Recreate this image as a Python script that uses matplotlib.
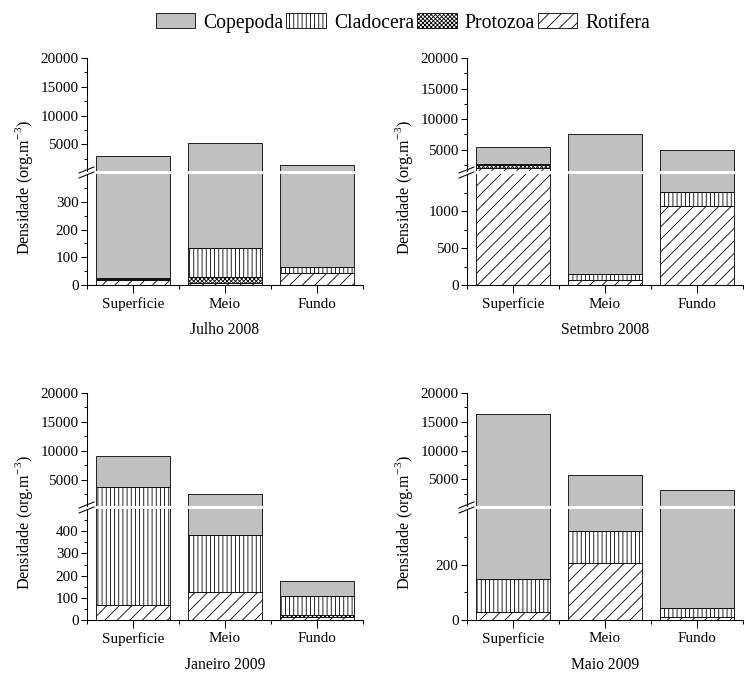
import matplotlib
matplotlib.use('Agg')
import matplotlib.pyplot as plt
from matplotlib.lines import Line2D
from matplotlib.patches import Patch

plt.rcParams['font.family'] = ['Liberation Serif', 'DejaVu Serif']
plt.rcParams['mathtext.fontset'] = 'custom'
plt.rcParams['mathtext.rm'] = 'Liberation Serif'
plt.rcParams['hatch.linewidth'] = 0.8

# data (org.m-3), order: Superficie, Meio, Fundo
sites = ['Superficie', 'Meio', 'Fundo']
months = ['Julho 2008', 'Setmbro 2008', 'Janeiro 2009', 'Maio 2009']
rotifera = [[18, 9, 42], [1950, 68, 1068], [68, 126, 12], [28, 207, 11]]
protozoa = [[3, 19, 0], [550, 0, 0], [0, 0, 12], [0, 0, 0]]
cladocera = [[3, 104, 22], [100, 77, 185], [3782, 258, 82], [121, 113, 31]]
copepoda = [[3026, 5070, 1436], [2850, 7355, 3747], [5350, 2216, 71], [16150, 5380, 3108]]

# broken axis: lower part top value and its tick step
lower_top = [400, 1500, 500, 400]
lower_step = [100, 500, 100, 200]
upper_top = 20000

W, H = 746, 673
fig = plt.figure(figsize=(W / 75, H / 75), dpi=75)

# panel geometry in pixels
lefts = [87, 467, 87, 467]
tops = [58, 58, 393, 393]
pw = 276
up_h = 113
gap = 3
low_h = 111

def fx(px):
    return px / W

def fy(py):
    return 1 - py / H

series = [('Rotifera', rotifera, 'white', '//'),
          ('Protozoa', protozoa, 'white', 'xxxxxx'),
          ('Cladocera', cladocera, 'white', '|||'),
          ('Copepoda', copepoda, '#c0c0c0', None)]

xpos = [0.5, 1.5, 2.5]

for i in range(4):
    l, t = lefts[i], tops[i]
    ax_up = fig.add_axes([fx(l), fy(t + up_h), fx(pw), up_h / H])
    ax_lo = fig.add_axes([fx(l), fy(t + up_h + gap + low_h), fx(pw), low_h / H])

    for ax in (ax_up, ax_lo):
        bottom = [0, 0, 0]
        for name, vals, fc, hatch in series:
            v = vals[i]
            ax.bar(xpos, v, width=0.8, bottom=bottom, color=fc, hatch=hatch,
                   edgecolor='black', linewidth=0.8)
            bottom = [b + x for b, x in zip(bottom, v)]
        ax.set_xlim(0, 3)
        for s in ['top', 'right']:
            ax.spines[s].set_visible(False)
        ax.spines['left'].set_linewidth(1.0)
        ax.tick_params(axis='y', which='major', direction='out', length=6, width=1.0,
                       labelsize=14.5, pad=2)
        ax.tick_params(axis='y', which='minor', direction='out', length=3, width=1.0)

    ax_up.set_ylim(lower_top[i], upper_top)
    ax_up.set_yticks([5000, 10000, 15000, 20000])
    ax_up.set_yticks([2500, 7500, 12500, 17500], minor=True)
    ax_up.spines['bottom'].set_visible(False)
    ax_up.set_xticks([])

    st = lower_step[i]
    ax_lo.set_ylim(0, lower_top[i])
    maj = list(range(0, lower_top[i], st))
    ax_lo.set_yticks(maj)
    ax_lo.set_yticks([m + st / 2 for m in maj], minor=True)
    ax_lo.spines['bottom'].set_linewidth(1.0)
    ax_lo.set_xticks(xpos)
    ax_lo.set_xticklabels(sites)
    ax_lo.set_xticks([0, 1, 2, 3], minor=True)
    ax_lo.tick_params(axis='x', which='major', direction='out', length=8, width=1.0,
                      labelsize=14.5, pad=4)
    ax_lo.tick_params(axis='x', which='minor', direction='out', length=4, width=1.0)
    ax_lo.set_xlabel(months[i], fontsize=15, labelpad=10)

    # break marks on the y axis
    yb = t + up_h + gap / 2
    for dy in (-2.5, 2.5):
        fig.add_artist(Line2D([fx(l - 8), fx(l + 7)], [fy(yb + dy + 3), fy(yb + dy - 3)],
                              color='black', lw=1.0))

    fig.text(fx(l - 63), fy(t + 130), r'Densidade (org.m$^{\mathrm{-3}}$)',
             rotation=90, ha='center', va='center', fontsize=15.5)

handles = [Patch(facecolor='#c0c0c0', edgecolor='black', lw=0.8, label='Copepoda'),
           Patch(facecolor='white', edgecolor='black', lw=0.8, hatch='|||', label='Cladocera'),
           Patch(facecolor='white', edgecolor='black', lw=0.8, hatch='xxxxxx', label='Protozoa'),
           Patch(facecolor='white', edgecolor='black', lw=0.8, hatch='//', label='Rotifera')]
fig.legend(handles=handles, loc='center', bbox_to_anchor=(0.54, fy(23)), ncol=4,
           frameon=False, fontsize=19, handlelength=2.0, handleheight=0.75,
           handletextpad=0.4, columnspacing=0.15, borderpad=0)

fig.savefig('out.png', dpi=75)
